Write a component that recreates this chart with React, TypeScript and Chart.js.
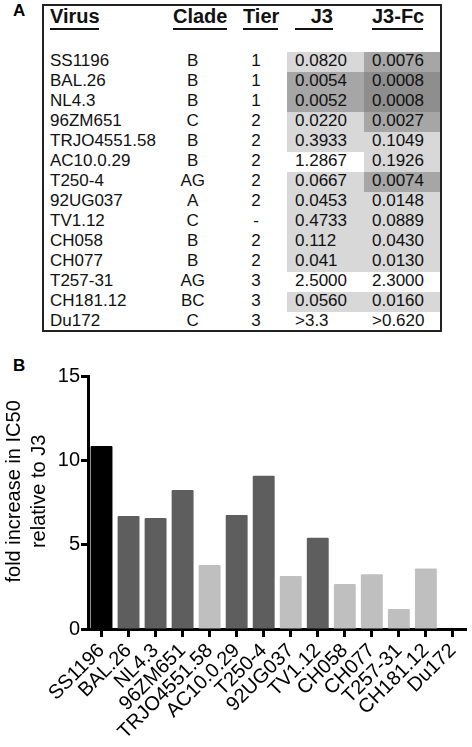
import React, { useEffect, useRef } from "react";
import { Chart, registerables } from "chart.js";
Chart.register(...registerables);

const viruses = ["SS1196", "BAL.26", "NL4.3", "96ZM651", "TRJO4551.58", "AC10.0.29", "T250-4", "92UG037", "TV1.12", "CH058", "CH077", "T257-31", "CH181.12", "Du172"];
const clades = ["B", "B", "B", "C", "B", "B", "AG", "A", "C", "B", "B", "AG", "BC", "C"];
const tiers = ["1", "1", "1", "2", "2", "2", "2", "2", "-", "2", "2", "3", "3", "3"];
const j3Values = ["0.0820", "0.0054", "0.0052", "0.0220", "0.3933", "1.2867", "0.0667", "0.0453", "0.4733", "0.112", "0.041", "2.5000", "0.0560", ">3.3"];
const j3FcValues = ["0.0076", "0.0008", "0.0008", "0.0027", "0.1049", "0.1926", "0.0074", "0.0148", "0.0889", "0.0430", "0.0130", "2.3000", "0.0160", ">0.620"];
const j3Shade = [1, 2, 2, 1, 1, 0, 1, 1, 1, 1, 1, 0, 1, 0];
const j3FcShade = [2, 3, 3, 2, 1, 1, 2, 1, 1, 1, 1, 0, 1, 0];
const foldIncrease = [10.85, 6.7, 6.58, 8.24, 3.79, 6.76, 9.09, 3.14, 5.41, 2.67, 3.24, 1.18, 3.58, 0];
const barGroup = ["black", "dark", "dark", "dark", "light", "dark", "dark", "light", "dark", "light", "light", "light", "light", "light"];
const yTitle = ["    fold increase in IC50", "    relative to J3"];

const groupColor: Record<string, string> = { black: "#000000", dark: "#5e5e5e", light: "#bfbfbf" };
const shadeColor = ["transparent", "#d8d8d8", "#a6a6a6", "#8e8e8e"];
const FONT = "'Liberation Sans', Arial, Helvetica, sans-serif";

export default function App() {
  const ref = useRef<HTMLCanvasElement>(null);
  useEffect(() => {
    document.body.style.margin = "0";
    Chart.defaults.font.family = FONT;
    const chart = new Chart(ref.current!, {
      type: "bar",
      data: {
        labels: viruses,
        datasets: [
          {
            data: foldIncrease,
            backgroundColor: barGroup.map((g) => groupColor[g]),
            borderWidth: 0,
            barPercentage: 0.81,
            categoryPercentage: 1,
            borderRadius: 1,
          },
        ],
      },
      options: {
        animation: false,
        responsive: false,
        devicePixelRatio: 1,
        layout: { padding: { top: 36, right: 3, left: 0, bottom: 0 } },
        plugins: { legend: { display: false }, tooltip: { enabled: false } },
        scales: {
          x: {
            grid: { display: true, drawOnChartArea: false, drawTicks: true, offset: false, tickLength: 8, tickWidth: 3, tickColor: "#000" },
            border: { display: true, width: 3, color: "#000" },
            ticks: { color: "#000", font: { size: 20 }, maxRotation: 45, minRotation: 45, autoSkip: false, padding: 2 },
            afterFit: (s: any) => {
              s.height = 118;
            },
          },
          y: {
            min: 0,
            max: 15,
            ticks: { stepSize: 5, color: "#000", font: { size: 20 }, padding: 1 },
            grid: { drawOnChartArea: false, tickLength: 7, tickWidth: 3, tickColor: "#000" },
            border: { width: 3, color: "#000" },
            title: { display: true, text: yTitle, color: "#000", font: { size: 20, lineHeight: 1.25 }, padding: { top: 2, bottom: 0 } },
            afterFit: (s: any) => {
              s.width = 88;
            },
          },
        },
      },
    } as any);
    return () => chart.destroy();
  }, []);

  const abs = (o: React.CSSProperties): React.CSSProperties => ({ position: "absolute", ...o });
  const rowTop = (i: number) => 51.7 + 20 * i;
  const cellText: React.CSSProperties = { fontSize: 17, lineHeight: "20px", height: 20, color: "#111", whiteSpace: "nowrap" };
  const head: React.CSSProperties = { fontSize: 20, fontWeight: "bold", lineHeight: "24px", top: 4, color: "#111", whiteSpace: "nowrap" };
  const uline = (l: number, w: number) => <div style={abs({ left: l, width: w, top: 28, height: 2, background: "#111" })} />;

  return (
    <div style={{ position: "relative", width: 472, height: 747, fontFamily: FONT, background: "#fff", overflow: "hidden" }}>
      <div style={abs({ left: 13, top: 1, fontSize: 17, fontWeight: "bold", lineHeight: "20px" })}>A</div>
      <div style={abs({ left: 13, top: 356, fontSize: 17, fontWeight: "bold", lineHeight: "20px" })}>B</div>
      {viruses.map((v, i) => (
        <React.Fragment key={v}>
          <div style={abs({ left: 286.7, width: 77.6, top: rowTop(i), height: 20, background: shadeColor[j3Shade[i]] })} />
          <div style={abs({ left: 364.3, width: 77, top: rowTop(i), height: 20, background: shadeColor[j3FcShade[i]] })} />
          <div style={abs({ ...cellText, left: 50, top: rowTop(i) - 1 })}>{v}</div>
          <div style={abs({ ...cellText, left: 162.7, width: 60, textAlign: "center", top: rowTop(i) - 1 })}>{clades[i]}</div>
          <div style={abs({ ...cellText, left: 226, width: 60, textAlign: "center", top: rowTop(i) - 1 })}>{tiers[i]}</div>
          <div style={abs({ ...cellText, left: 295, top: rowTop(i) - 1 })}>{j3Values[i]}</div>
          <div style={abs({ ...cellText, left: 372, top: rowTop(i) - 1 })}>{j3FcValues[i]}</div>
        </React.Fragment>
      ))}
      <div style={abs({ left: 42, top: 4, width: 400, height: 328, border: "2px solid #222", boxSizing: "border-box" })} />
      <div style={abs({ ...head, left: 50 })}>Virus</div>
      {uline(50, 49)}
      <div style={abs({ ...head, left: 173 })}>Clade</div>
      {uline(173, 54)}
      <div style={abs({ ...head, left: 243 })}>Tier</div>
      {uline(243, 35)}
      <div style={abs({ ...head, left: 295, width: 38, textAlign: "right" })}>J3</div>
      {uline(295, 38)}
      <div style={abs({ ...head, left: 372 })}>J3-Fc</div>
      {uline(372, 51)}
      <canvas ref={ref} width={472} height={407} style={abs({ left: 0, top: 340, width: 472, height: 407 })} />
    </div>
  );
}
